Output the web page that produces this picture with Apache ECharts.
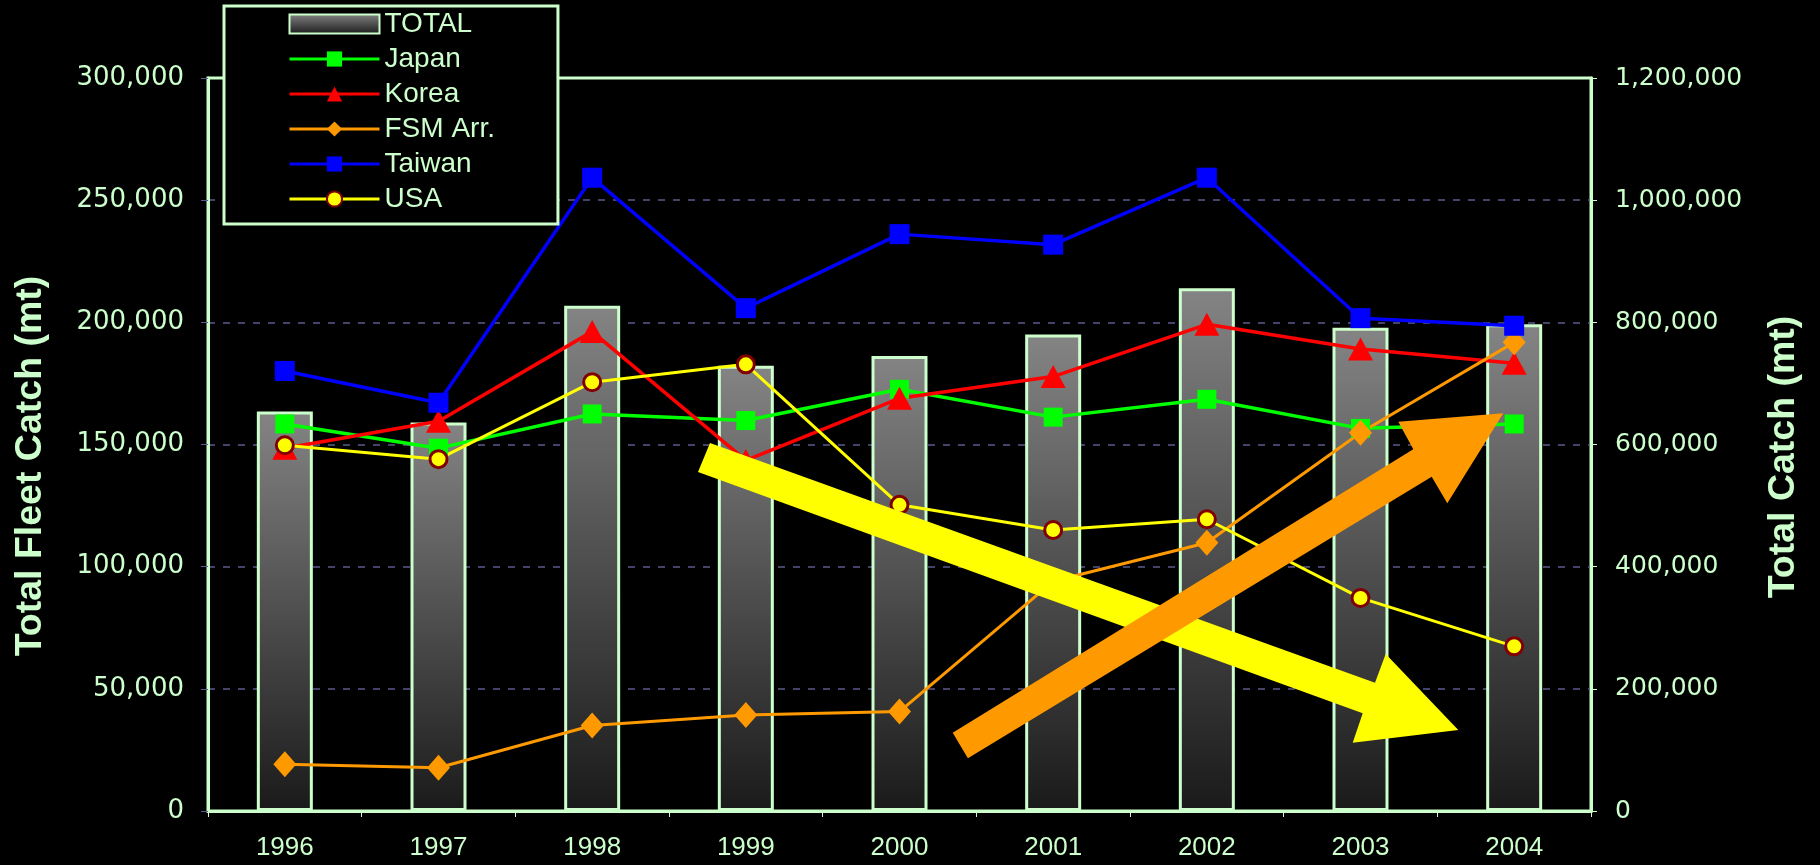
<!DOCTYPE html>
<html><head><meta charset="utf-8">
<script src="https://cdn.jsdelivr.net/npm/echarts@6/dist/echarts.min.js"></script>
<style>html,body{margin:0;padding:0;background:#000;}#c{width:1820px;height:865px;}</style>
</head><body><div id="c"></div>
<script>
const years = ['1996','1997','1998','1999','2000','2001','2002','2003','2004'];
const total = [654000, 636000, 827000, 729000, 745000, 780000, 856000, 791000, 797000];
const japan = [158400, 148500, 162500, 159800, 172600, 161200, 168500, 156600, 158400];
const korea = [148500, 159500, 196200, 143500, 168900, 177800, 199200, 189100, 183300];
const fsm = [19100, 17700, 35000, 39300, 40700, 94000, 109800, 154800, 191800];
const taiwan = [180100, 167100, 259200, 205800, 236100, 231800, 259200, 201700, 198600];
const usa = [149700, 144000, 175500, 182800, 125300, 115000, 119400, 87200, 67400];
const leftAxisRange = [0, 300000, 50000];
const rightAxisRange = [0, 1200000, 200000];
const leftTitle = 'Total Fleet Catch (mt)';
const rightTitle = 'Total Catch (mt)';

const MINT = '#ccffcc';
const chart = echarts.init(document.getElementById('c'), null, {renderer: 'canvas'});

function lineSeries(name, data, color, symbol, size, width, extraItem) {
  return {
    name, type: 'line', data, yAxisIndex: 0,
    symbol, symbolSize: size, showAllSymbol: true,
    lineStyle: {color, width},
    itemStyle: Object.assign({color}, extraItem || {}),
    z: 3, animation: false
  };
}

const option = {
  backgroundColor: '#000',
  animation: false,
  grid: {left: 208, right: 229, top: 78, bottom: 54, show: true, borderColor: MINT, borderWidth: 3, backgroundColor: 'transparent'},
  legend: {
    orient: 'vertical', left: 224, top: 6,
    data: [{name: 'TOTAL', icon: 'rect'}, 'Japan', 'Korea', 'FSM Arr.', 'Taiwan', 'USA'],
    itemWidth: 90, itemHeight: 19, itemGap: 7,
    padding: [4, 63, 11, 64],
    backgroundColor: '#000', borderColor: MINT, borderWidth: 3,
    lineStyle: {width: 3},
    textStyle: {color: MINT, fontSize: 28, fontFamily: 'Liberation Sans, Arial, sans-serif', lineHeight: 28},
    selectedMode: false, z: 10
  },
  xAxis: {
    type: 'category', data: years, boundaryGap: true,
    axisLine: {lineStyle: {color: MINT, width: 3}},
    axisTick: {show: true, length: 6, lineStyle: {color: MINT, width: 1}},
    axisLabel: {color: MINT, fontSize: 26, fontFamily: 'Liberation Sans, Arial, sans-serif', margin: 24}
  },
  yAxis: [
    {
      type: 'value', position: 'left', min: leftAxisRange[0], max: leftAxisRange[1], interval: leftAxisRange[2],
      axisLine: {show: true, lineStyle: {color: MINT, width: 3}},
      axisTick: {show: true, length: 7, lineStyle: {color: '#5b5b8f', width: 1}},
      axisLabel: {color: MINT, fontSize: 26, fontFamily: 'DejaVu Sans, sans-serif', margin: 24},
      splitLine: {show: true, showMinLine: false, showMaxLine: false, lineStyle: {color: '#5b5b8f', width: 1.5, type: [7, 8]}}
    },
    {
      type: 'value', position: 'right', min: rightAxisRange[0], max: rightAxisRange[1], interval: rightAxisRange[2],
      axisLine: {show: true, lineStyle: {color: MINT, width: 3}},
      axisTick: {show: true, length: 6, lineStyle: {color: MINT, width: 1}},
      axisLabel: {color: MINT, fontSize: 25, fontFamily: 'DejaVu Sans, sans-serif', margin: 24},
      splitLine: {show: false}
    }
  ],
  series: [
    {
      name: 'TOTAL', type: 'bar', data: total, yAxisIndex: 1, barWidth: 56,
      itemStyle: {
        color: new echarts.graphic.LinearGradient(0, 0, 0, 1, [
          {offset: 0, color: '#848484'}, {offset: 1, color: '#1a1a1a'}
        ]),
        borderColor: MINT, borderWidth: 3
      },
      z: 2
    },
    lineSeries('Japan', japan, '#00ff00', 'rect', 19, 3.5),
    lineSeries('Korea', korea, '#ff0000', 'triangle', [25, 23], 3.5),
    lineSeries('FSM Arr.', fsm, '#ff9900', 'diamond', [23, 26], 3),
    lineSeries('Taiwan', taiwan, '#0000ff', 'rect', 20, 3.5),
    lineSeries('USA', usa, '#ffff00', 'circle', 17, 3, {borderColor: '#800000', borderWidth: 3})
  ],
  graphic: [
    {
      type: 'polygon', z: 100,
      shape: {points: [[710, 443], [1375, 682.7], [1385.7, 654], [1458.3, 730], [1352.7, 742.7], [1362.7, 713.3], [698, 472]]},
      style: {fill: '#ffff00'}
    },
    {
      type: 'polygon', z: 101,
      shape: {points: [[967.9, 758.3], [952.7, 732.7], [1413.3, 449.3], [1398.3, 421.7], [1503.3, 413.3], [1447.3, 503.3], [1431.7, 476.7]]},
      style: {fill: '#ff9900'}
    },
    {
      type: 'text', x: 31, y: 466, rotation: Math.PI / 2, z: 50,
      style: {text: leftTitle, fill: MINT, font: 'bold 37.5px "Liberation Sans", Arial, sans-serif', align: 'center', verticalAlign: 'middle'}
    },
    {
      type: 'text', x: 1784, y: 457, rotation: Math.PI / 2, z: 50,
      style: {text: rightTitle, fill: MINT, font: 'bold 37.5px "Liberation Sans", Arial, sans-serif', align: 'center', verticalAlign: 'middle'}
    }
  ]
};
chart.setOption(option);
</script>
</body></html>
